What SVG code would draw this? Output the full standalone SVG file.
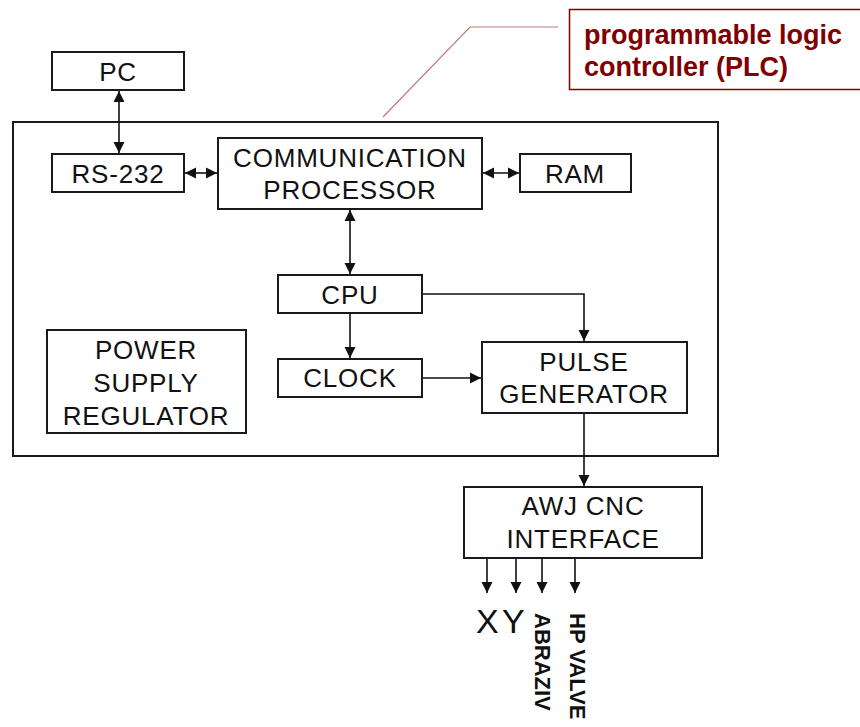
<svg xmlns="http://www.w3.org/2000/svg" width="860" height="727" viewBox="0 0 860 727">
<style>
.box{fill:#fff;stroke:#1a1a1a;stroke-width:2}
.t{font-family:"Liberation Sans",Arial,sans-serif;font-size:26px;fill:#111;text-anchor:middle;letter-spacing:0.8px}
.c{fill:none;stroke:#111;stroke-width:1.6}
.lbl{font-family:"Liberation Sans",Arial,sans-serif;font-size:27px;font-weight:bold;fill:#800000}
.r{font-family:"Liberation Sans",Arial,sans-serif;font-size:22px;font-weight:bold;fill:#111}
</style>
<defs>
<marker id="ah" markerWidth="12" markerHeight="12" refX="11" refY="6" orient="auto-start-reverse" markerUnits="userSpaceOnUse">
<path d="M0,0.5 L11,6 L0,11.5 Z" fill="#111"/>
</marker>
</defs>
<rect width="860" height="727" fill="#fff"/>
<g id="plc-label">
<path d="M383,117 L470,27 L558,27" fill="none" stroke="#c07878" stroke-width="1.2"/>
<rect x="569.5" y="9.5" width="300" height="80" fill="#fff" stroke="#800000" stroke-width="1.5"/>
<text class="lbl" x="584" y="44">programmable logic</text>
<text class="lbl" x="584" y="76">controller (PLC)</text>
</g>
<g id="plc">
<rect x="13" y="122" width="705" height="334" fill="none" stroke="#1a1a1a" stroke-width="2"/>
</g>
<g id="pc"><rect class="box" x="52" y="52" width="132" height="38"/><text class="t" x="118" y="81">PC</text></g>
<g id="rs232"><rect class="box" x="52" y="154" width="132" height="38"/><text class="t" x="118" y="183">RS-232</text></g>
<g id="comm"><rect class="box" x="218" y="138" width="264" height="71"/><text class="t" x="350" y="167">COMMUNICATION</text><text class="t" x="350" y="199">PROCESSOR</text></g>
<g id="ram"><rect class="box" x="520" y="154" width="111" height="38"/><text class="t" x="575" y="183">RAM</text></g>
<g id="cpu"><rect class="box" x="278" y="275" width="144" height="38"/><text class="t" x="350" y="304">CPU</text></g>
<g id="clock"><rect class="box" x="278" y="359" width="144" height="38"/><text class="t" x="350" y="387">CLOCK</text></g>
<g id="pulse"><rect class="box" x="482" y="342" width="205" height="71"/><text class="t" x="584" y="371">PULSE</text><text class="t" x="584" y="403">GENERATOR</text></g>
<g id="power"><rect class="box" x="47" y="330" width="199" height="103"/><text class="t" x="146" y="359">POWER</text><text class="t" x="146" y="392">SUPPLY</text><text class="t" x="146" y="425">REGULATOR</text></g>
<g id="awj"><rect class="box" x="464" y="487" width="238" height="71"/><text class="t" x="583" y="515">AWJ CNC</text><text class="t" x="583" y="548">INTERFACE</text></g>
<g id="connectors">
<line class="c" x1="119" y1="91" x2="119" y2="153" marker-start="url(#ah)" marker-end="url(#ah)"/>
<line class="c" x1="185" y1="173" x2="217" y2="173" marker-start="url(#ah)" marker-end="url(#ah)"/>
<line class="c" x1="483" y1="173" x2="519" y2="173" marker-start="url(#ah)" marker-end="url(#ah)"/>
<line class="c" x1="350" y1="210" x2="350" y2="274" marker-start="url(#ah)" marker-end="url(#ah)"/>
<line class="c" x1="350" y1="314" x2="350" y2="358" marker-end="url(#ah)"/>
<polyline class="c" points="423,294 584,294 584,341" marker-end="url(#ah)"/>
<line class="c" x1="423" y1="378" x2="481" y2="378" marker-end="url(#ah)"/>
<line class="c" x1="584" y1="414" x2="584" y2="486" marker-end="url(#ah)"/>
<line class="c" x1="487" y1="559" x2="487" y2="593" marker-end="url(#ah)"/>
<line class="c" x1="516" y1="559" x2="516" y2="593" marker-end="url(#ah)"/>
<line class="c" x1="542" y1="559" x2="542" y2="593" marker-end="url(#ah)"/>
<line class="c" x1="575" y1="559" x2="575" y2="593" marker-end="url(#ah)"/>
</g>
<g id="outputs">
<text x="476" y="633" font-family="Liberation Sans, Arial, sans-serif" font-size="34" fill="#111">X</text>
<text x="502" y="633" font-family="Liberation Sans, Arial, sans-serif" font-size="34" fill="#111">Y</text>
<text class="r" transform="translate(535,613) rotate(90)">ABRAZIV</text>
<text class="r" transform="translate(570,613) rotate(90)">HP VALVE</text>
</g>
</svg>
